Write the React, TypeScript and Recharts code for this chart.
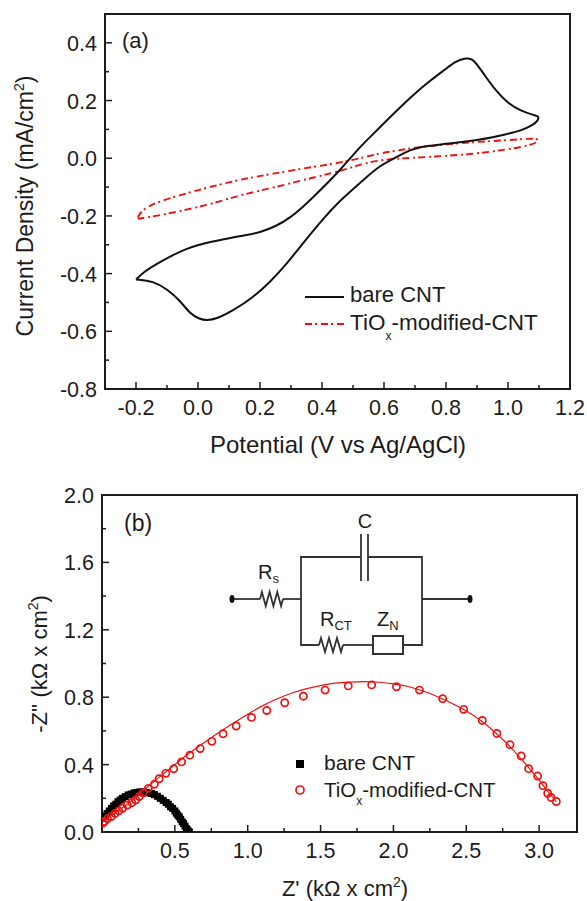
import React from "react";
import { ScatterChart, Scatter, XAxis, YAxis, ReferenceArea } from "recharts";

// ---------- Panel (a): cyclic voltammetry ----------
const aXTicks = [-0.2, -0.1, 0, 0.1, 0.2, 0.3, 0.4, 0.5, 0.6, 0.7, 0.8, 0.9, 1.0, 1.1, 1.2];
const aXMajor = [-0.2, 0, 0.2, 0.4, 0.6, 0.8, 1.0, 1.2];
const aYTicks = [-0.8, -0.7, -0.6, -0.5, -0.4, -0.3, -0.2, -0.1, 0, 0.1, 0.2, 0.3, 0.4];
const aYMajor = [-0.8, -0.6, -0.4, -0.2, 0, 0.2, 0.4];

const bareCvX = [-0.2, -0.17, -0.132, -0.08, -0.04, 0, 0.05, 0.113, 0.15, 0.2, 0.25, 0.3, 0.35, 0.4, 0.458, 0.513, 0.55, 0.587, 0.652, 0.7, 0.75, 0.8, 0.83, 0.86, 0.885, 0.9, 0.93, 0.96, 1.0, 1.04, 1.08, 1.1, 1.097, 1.08, 1.04, 1.0, 0.95, 0.9, 0.85, 0.8, 0.75, 0.72, 0.68, 0.652, 0.587, 0.533, 0.458, 0.394, 0.329, 0.286, 0.232, 0.178, 0.114, 0.06, 0.028, 0.006, -0.026, -0.058, -0.101, -0.144, -0.2];
const bareCvY = [-0.42, -0.39, -0.365, -0.335, -0.315, -0.3, -0.288, -0.274, -0.268, -0.257, -0.237, -0.205, -0.158, -0.105, -0.042, 0.028, 0.068, 0.108, 0.177, 0.225, 0.27, 0.31, 0.335, 0.347, 0.345, 0.325, 0.28, 0.235, 0.19, 0.165, 0.15, 0.147, 0.13, 0.115, 0.095, 0.085, 0.072, 0.063, 0.056, 0.05, 0.043, 0.04, 0.027, 0.01, -0.024, -0.076, -0.146, -0.221, -0.308, -0.366, -0.43, -0.482, -0.528, -0.557, -0.5625, -0.558, -0.539, -0.493, -0.453, -0.426, -0.42];

const tioCvX = [-0.194, -0.182, -0.133, -0.058, 0.028, 0.135, 0.243, 0.372, 0.49, 0.587, 0.652, 0.7, 0.8, 0.9, 1.0, 1.1, 1.1, 1.05, 1.0, 0.9, 0.8, 0.7, 0.652, 0.598, 0.533, 0.469, 0.372, 0.243, 0.135, 0.039, -0.036, -0.123, -0.194];
const tioCvY = [-0.205, -0.18, -0.152, -0.128, -0.102, -0.074, -0.053, -0.03, -0.01, 0.018, 0.028, 0.037, 0.048, 0.057, 0.062, 0.072, 0.055, 0.04, 0.031, 0.016, 0.008, 0.002, -0.001, -0.005, -0.018, -0.042, -0.067, -0.102, -0.128, -0.16, -0.178, -0.198, -0.21];

// ---------- Panel (b): impedance ----------
const bXTicks = [0.25, 0.5, 0.75, 1.0, 1.25, 1.5, 1.75, 2.0, 2.25, 2.5, 2.75, 3.0];
const bXMajor = [0.5, 1.0, 1.5, 2.0, 2.5, 3.0];
const bYTicks = [0, 0.2, 0.4, 0.6, 0.8, 1.0, 1.2, 1.4, 1.6, 1.8, 2.0];
const bYMajor = [0, 0.4, 0.8, 1.2, 1.6, 2.0];

const bareZX = [0.005, 0.02, 0.035, 0.05, 0.065, 0.08, 0.095, 0.11, 0.125, 0.14, 0.16, 0.18, 0.2, 0.22, 0.24, 0.26, 0.28, 0.3, 0.32, 0.34, 0.36, 0.38, 0.4, 0.42, 0.44, 0.455, 0.47, 0.485, 0.5, 0.51, 0.52, 0.53, 0.54, 0.55, 0.56, 0.57, 0.58, 0.59, 0.6];
const bareZY = [0.08, 0.095, 0.11, 0.125, 0.14, 0.155, 0.165, 0.18, 0.19, 0.2, 0.21, 0.22, 0.225, 0.232, 0.235, 0.238, 0.238, 0.235, 0.232, 0.228, 0.222, 0.212, 0.2, 0.188, 0.175, 0.165, 0.15, 0.14, 0.125, 0.112, 0.1, 0.09, 0.075, 0.06, 0.05, 0.035, 0.02, 0.01, 0];

const tioZX = [3.118, 3.082, 3.059, 3.026, 2.99, 2.928, 2.877, 2.8, 2.71, 2.61, 2.482, 2.338, 2.179, 2.021, 1.851, 1.69, 1.531, 1.382, 1.254, 1.131, 1.026, 0.921, 0.831, 0.754, 0.674, 0.603, 0.546, 0.492, 0.438, 0.392, 0.359, 0.318, 0.282, 0.256, 0.231, 0.205, 0.174, 0.141, 0.115, 0.09, 0.064, 0.038, 0.018, 0.005];
const tioZY = [0.181, 0.205, 0.23, 0.275, 0.332, 0.376, 0.451, 0.518, 0.585, 0.662, 0.728, 0.791, 0.842, 0.862, 0.873, 0.867, 0.842, 0.806, 0.767, 0.721, 0.68, 0.629, 0.583, 0.538, 0.495, 0.456, 0.416, 0.375, 0.348, 0.316, 0.283, 0.259, 0.233, 0.21, 0.19, 0.174, 0.16, 0.141, 0.125, 0.11, 0.092, 0.079, 0.063, 0.053];

const fitX = [0, 0.1, 0.2, 0.3, 0.4, 0.5, 0.6, 0.7, 0.8, 0.9, 1.0, 1.1, 1.2, 1.3, 1.4, 1.5, 1.6, 1.7, 1.8, 1.9, 2.0, 2.1, 2.2, 2.3, 2.4, 2.5, 2.6, 2.7, 2.8, 2.9, 3.0, 3.05, 3.1, 3.118];
const fitY = [0.06, 0.12, 0.18, 0.26, 0.33, 0.4, 0.47, 0.53, 0.59, 0.645, 0.7, 0.75, 0.79, 0.825, 0.85, 0.87, 0.885, 0.89, 0.893, 0.89, 0.88, 0.865, 0.84, 0.805, 0.765, 0.72, 0.665, 0.59, 0.51, 0.41, 0.31, 0.25, 0.2, 0.18];

const zip = (xs: number[], ys: number[]) => xs.map((x, i) => ({ x, y: ys[i] }));

const INK = "#1c1c1c";
const RED = "#f01010";
const DASH = "7 3 2 4";
const FONT = "'Liberation Sans', Arial, sans-serif";

const near = (list: number[], v: number) => list.some((m) => Math.abs(m - v) < 1e-6);

const xTick = (major: number[], size: number, base: number) => (p: any) => {
  const v = p.payload.value;
  const isMajor = near(major, v);
  return (
    <g>
      <line x1={p.x} x2={p.x} y1={base} y2={base - (isMajor ? 7 : 4)} stroke={INK} strokeWidth={1.5} />
      {isMajor ? (
        <text x={p.x} y={base + 26} textAnchor="middle" fontSize={size} fontFamily={FONT} fill={INK}>
          {v.toFixed(1)}
        </text>
      ) : null}
    </g>
  );
};

const yTick = (major: number[], size: number, left: number, right: number) => (p: any) => {
  const v = p.payload.value;
  const isMajor = near(major, v);
  return (
    <g>
      <line x1={left} x2={left + (isMajor ? 7 : 4)} y1={p.y} y2={p.y} stroke={INK} strokeWidth={1.5} />
      {isMajor ? (
        <text x={right} y={p.y + 8} textAnchor="end" fontSize={size} fontFamily={FONT} fill={INK}>
          {v.toFixed(1)}
        </text>
      ) : null}
    </g>
  );
};

const noPoint = () => <g />;
const squarePoint = (p: any) => <rect x={p.cx - 3.5} y={p.cy - 3.5} width={7} height={7} fill="#000" />;
const ringPoint = (p: any) => <circle cx={p.cx} cy={p.cy} r={3.6} fill="none" stroke={RED} strokeWidth={1.7} />;

const T = (props: any) => <text fontFamily={FONT} fill={INK} {...props} />;

const zig = (x0: number, x1: number, y: number) => {
  const n = 6;
  const pts: string[] = [`${x0},${y}`];
  for (let i = 0; i < n; i++) {
    const xx = x0 + ((x1 - x0) * (i + 0.5)) / n;
    pts.push(`${xx},${y + (i % 2 === 0 ? -7 : 7)}`);
  }
  pts.push(`${x1},${y}`);
  return pts.join(" ");
};

const Overlay = () => (
  <svg width={587} height={901} style={{ position: "absolute", left: 0, top: 0, pointerEvents: "none" }}>
    {/* panel (a) */}
    <T x={122} y={48} fontSize={22}>(a)</T>
    <T x={338} y={453} fontSize={24} textAnchor="middle">Potential (V vs Ag/AgCl)</T>
    <T transform="translate(33,206) rotate(-90)" fontSize={23} textAnchor="middle">
      Current Density (mA/cm<tspan dy={-9} fontSize={14}>2</tspan><tspan dy={9}>)</tspan>
    </T>
    <line x1={305} x2={344} y1={297} y2={297} stroke="#111" strokeWidth={2} />
    <T x={350} y={302} fontSize={22}>bare CNT</T>
    <line x1={305} x2={344} y1={324} y2={324} stroke={RED} strokeWidth={2} strokeDasharray={DASH} />
    <T x={350} y={330} fontSize={22.5}>TiO<tspan dy={10} fontSize={12}>x</tspan><tspan dy={-10}>-modified-CNT</tspan></T>

    {/* panel (b) */}
    <T x={124} y={531} fontSize={23}>(b)</T>
    <T x={345} y={896} fontSize={22} textAnchor="middle">
      Z' (kΩ x cm<tspan dy={-9} fontSize={14}>2</tspan><tspan dy={9}>)</tspan>
    </T>
    <T transform="translate(47,664) rotate(-90)" fontSize={22} textAnchor="middle">
      -Z'' (kΩ x cm<tspan dy={-9} fontSize={14}>2</tspan><tspan dy={9}>)</tspan>
    </T>
    <rect x={296} y={760} width={8} height={8} fill="#000" />
    <T x={324} y={770} fontSize={21}>bare CNT</T>
    <circle cx={300} cy={790} r={4} fill="none" stroke={RED} strokeWidth={1.7} />
    <T x={324} y={797} fontSize={20.5}>TiO<tspan dy={8} fontSize={12}>x</tspan><tspan dy={-8}>-modified-CNT</tspan></T>

    {/* equivalent-circuit inset */}
    <g stroke="#333" strokeWidth={1.8} fill="none">
      <line x1={232} x2={260} y1={599} y2={599} />
      <polyline points={zig(260, 283, 599)} />
      <line x1={283} x2={301} y1={599} y2={599} />
      <polyline points="361,557 301,557 301,645 319,645" />
      <polyline points="368,557 422,557 422,645 403,645" />
      <line x1={361} x2={361} y1={534} y2={581} />
      <line x1={368} x2={368} y1={534} y2={581} />
      <polyline points={zig(319, 343, 645)} />
      <line x1={343} x2={373} y1={645} y2={645} />
      <rect x={373} y={636} width={30} height={18} strokeWidth={2} />
      <line x1={422} x2={470} y1={599} y2={599} />
    </g>
    <ellipse cx={232} cy={599} rx={2.5} ry={4} fill="#111" />
    <ellipse cx={470} cy={599} rx={2.5} ry={4} fill="#111" />
    <T x={365} y={528} fontSize={20} textAnchor="middle">C</T>
    <T x={258} y={579} fontSize={20}>R<tspan dy={4} fontSize={13}>s</tspan></T>
    <T x={320} y={626} fontSize={20}>R<tspan dy={4} fontSize={13}>CT</tspan></T>
    <T x={377} y={626} fontSize={20}>Z<tspan dy={4} fontSize={13}>N</tspan></T>
  </svg>
);

export default function App() {
  return (
    <div style={{ position: "absolute", left: 0, top: 0, width: 587, height: 901, background: "#fff" }}>
      <div style={{ position: "absolute", left: 0, top: 0 }}>
        <ScatterChart width={587} height={450} margin={{ left: 104, right: 17, top: 14, bottom: 60 }}>
          <XAxis type="number" dataKey="x" domain={[-0.3, 1.2]} ticks={aXTicks} interval={0} height={1}
            allowDataOverflow tickLine={false} axisLine={false} tickSize={0} tickMargin={0} tick={xTick(aXMajor, 21.5, 389)} />
          <YAxis type="number" dataKey="y" domain={[-0.8, 0.5]} ticks={aYTicks} interval={0} width={1}
            allowDataOverflow tickLine={false} axisLine={false} tickSize={0} tickMargin={0} tick={yTick(aYMajor, 21.5, 105, 97)} />
          <ReferenceArea x1={-0.3} x2={1.2} y1={-0.8} y2={0.5} fill="none" stroke={INK} strokeWidth={2} />
          <Scatter data={zip(tioCvX, tioCvY)} isAnimationActive={false} shape={noPoint} lineJointType="basis"
            line={{ stroke: RED, strokeWidth: 1.9, strokeDasharray: DASH }} />
          <Scatter data={zip(bareCvX, bareCvY)} isAnimationActive={false} shape={noPoint} lineJointType="basis"
            line={{ stroke: "#111", strokeWidth: 2 }} />
        </ScatterChart>
      </div>
      <div style={{ position: "absolute", left: 0, top: 450 }}>
        <ScatterChart width={587} height={451} margin={{ left: 101, right: 10, top: 45, bottom: 68 }}>
          <XAxis type="number" dataKey="x" domain={[0, 3.26]} ticks={bXTicks} interval={0} height={1}
            allowDataOverflow tickLine={false} axisLine={false} tickSize={0} tickMargin={0} tick={xTick(bXMajor, 21.5, 382)} />
          <YAxis type="number" dataKey="y" domain={[0, 2]} ticks={bYTicks} interval={0} width={1}
            allowDataOverflow tickLine={false} axisLine={false} tickSize={0} tickMargin={0} tick={yTick(bYMajor, 21.5, 102, 94)} />
          <ReferenceArea x1={0} x2={3.26} y1={0} y2={2} fill="none" stroke={INK} strokeWidth={2} />
          <Scatter data={zip(bareZX, bareZY)} isAnimationActive={false} shape={squarePoint} />
          <Scatter data={zip(fitX, fitY)} isAnimationActive={false} shape={noPoint} lineJointType="basis"
            line={{ stroke: RED, strokeWidth: 1.2 }} />
          <Scatter data={zip(tioZX, tioZY)} isAnimationActive={false} shape={ringPoint} />
        </ScatterChart>
      </div>
      <Overlay />
    </div>
  );
}
